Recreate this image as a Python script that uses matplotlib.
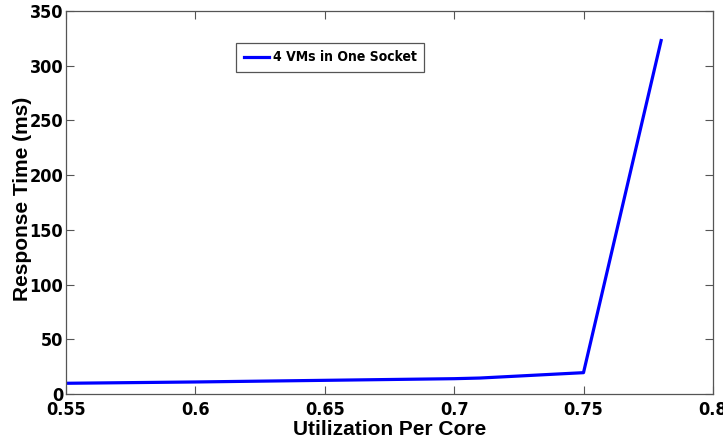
import os
import matplotlib
matplotlib.use('Agg')
import matplotlib.pyplot as plt
from matplotlib import font_manager as fm

# utilization per core vs. response time, 4 VMs pinned to one socket
utilization = [0.55, 0.60, 0.65, 0.70, 0.71, 0.75, 0.78]
response_ms = [9.8, 11.0, 12.5, 14.0, 14.6, 19.5, 323.0]

x_ticks = [0.55, 0.6, 0.65, 0.7, 0.75, 0.8]
x_labels = ['0.55', '0.6', '0.65', '0.7', '0.75', '0.8']
y_ticks = [0, 50, 100, 150, 200, 250, 300, 350]


def pick_narrow_bold():
    # look for a condensed bold face among the installed fonts
    files = [f.fname for f in fm.fontManager.ttflist]
    wanted = ['NotoSans-CondensedBold', 'NotoSans-SemiCondensedBold',
              'NotoSans-ExtraCondensedBold', 'LiberationSansNarrow-Bold',
              'DejaVuSansCondensed-Bold']
    for w in wanted:
        for p in files:
            if os.path.basename(p).startswith(w + '.'):
                return p
    return None


narrow_file = pick_narrow_bold()


def narrow_font(size):
    if narrow_file:
        return fm.FontProperties(fname=narrow_file, size=size)
    return fm.FontProperties(family='DejaVu Sans', weight='bold',
                             stretch='condensed', size=size)


fig = plt.figure(figsize=(7.23, 4.44), dpi=100)
ax = fig.add_axes([0.0913, 0.1126, 0.8947, 0.8626])

ax.plot(utilization, response_ms, color='#0000ff', linewidth=2.3,
        label='4 VMs in One Socket')

ax.set_xlim(0.55, 0.8)
ax.set_ylim(0, 350)
ax.set_xticks(x_ticks)
ax.set_xticklabels(x_labels)
ax.set_yticks(y_ticks)
for lab in ax.get_xticklabels() + ax.get_yticklabels():
    lab.set_fontproperties(narrow_font(13))

ax.tick_params(direction='in', top=True, right=True, length=6, width=0.8,
               color='#555555')
ax.tick_params(axis='x', pad=5)
ax.tick_params(axis='y', pad=2)
for s in ax.spines.values():
    s.set_color('#555555')
    s.set_linewidth(0.9)

ax.set_xlabel('Utilization Per Core', fontsize=15, fontweight='bold',
              family='Liberation Sans')
ax.set_ylabel('Response Time (ms)', fontsize=15, fontweight='bold',
              family='Liberation Sans')
ax.xaxis.set_label_coords(0.5, -0.068)
ax.yaxis.set_label_coords(-0.052, 0.51)

leg = ax.legend(loc='upper left', bbox_to_anchor=(0.263, 0.917),
                prop=narrow_font(10), fancybox=False, framealpha=1,
                edgecolor='#555555', handlelength=1.8, handletextpad=0.3,
                borderpad=0.55, borderaxespad=0)
leg.get_frame().set_linewidth(0.9)

fig.savefig('out.png', dpi=100)
